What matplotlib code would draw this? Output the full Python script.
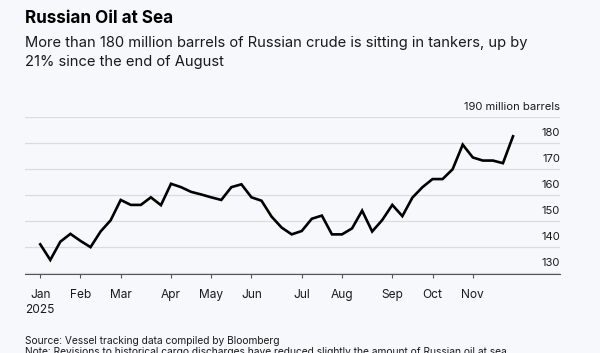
import numpy as np
import pandas as pd
import matplotlib
matplotlib.use("Agg")
import matplotlib.pyplot as plt
import matplotlib.transforms as mtransforms

# weekly barrels of Russian crude on tankers (million)
weeks = pd.date_range("2025-01-05", periods=48, freq="7D")
barrels = [
    141.2, 135.2, 142.2, 145.2, 142.5, 140.1, 146.1, 150.4, 158.2, 156.3,
    156.3, 159.2, 156.2, 164.4, 163.1, 161.3, 160.3, 159.2, 158.2, 163.1,
    164.2, 159.2, 157.9, 151.8, 147.6, 145.0, 146.3, 151.0, 152.2, 145.0,
    145.0, 147.3, 154.1, 146.1, 150.5, 156.3, 152.0, 159.1, 163.1, 166.2,
    166.2, 170.0, 179.4, 174.5, 173.3, 173.3, 172.3, 182.6,
]
y_ticks = [130, 140, 150, 160, 170, 180, 190]
y_labels = ["130", "140", "150", "160", "170", "180", "190 million barrels"]

title = "Russian Oil at Sea"
subtitle = [
    "More than 180 million barrels of Russian crude is sitting in tankers, up by",
    "21% since the end of August",
]
source = "Source: Vessel tracking data compiled by Bloomberg"
note = ("Note: Revisions to historical cargo discharges have reduced slightly "
        "the amount of Russian oil at sea")

plt.rcParams["font.family"] = ["Inter", "DejaVu Sans"]
bg = "#f6f8fb"
ink = "#1a1a1a"

fig = plt.figure(figsize=(6.0, 3.53), dpi=100, facecolor=bg)
ax = fig.add_axes([25 / 600, 1 - 273.5 / 353, 535 / 600, (273.5 - 117) / 353])
ax.set_facecolor(bg)

ax.plot(weeks, barrels, color="#000000", lw=1.9, solid_joinstyle="miter")

ax.set_ylim(130, 190)
ax.set_xlim(weeks[0] - pd.Timedelta(days=10.6), weeks[-1] + pd.Timedelta(days=32.7))

# gridlines, labels sit above the lines at the right edge
ax.set_yticks(y_ticks)
ax.tick_params(axis="y", length=0, labelleft=False)
ax.grid(axis="y", color="#d9dde3", lw=0.9)
ax.set_axisbelow(True)
trans = mtransforms.blended_transform_factory(ax.transAxes, ax.transData)
trans = mtransforms.offset_copy(trans, fig=fig, x=0, y=5.2, units="points")
for v, lab in zip(y_ticks, y_labels):
    ax.text(1.0, v, lab, transform=trans, ha="right", va="baseline",
            fontsize=8.1, color=ink)

# month ticks at the first weekly point of each month
s = pd.Series(weeks, index=weeks)
firsts = s.groupby(s.index.month).min()
tick_dates = list(firsts.values[:11])
tick_labels = [d.strftime("%b") for d in firsts.iloc[:11]]
tick_labels[0] = "Jan\n2025"
ax.set_xticks(tick_dates)
ax.set_xticklabels(tick_labels, fontsize=8.6, color=ink, linespacing=1.35, va="top")
ax.tick_params(axis="x", direction="out", length=3, width=0.8, color="#555555", pad=8)

for side in ("top", "left", "right"):
    ax.spines[side].set_visible(False)
ax.spines["bottom"].set_color("#555555")
ax.spines["bottom"].set_linewidth(0.8)

fig.text(25 / 600, 1 - 22.7 / 353, title, fontsize=12.3, fontweight="bold",
         color="#000000", va="baseline")
fig.text(25 / 600, 1 - 46.7 / 353, subtitle[0], fontsize=10.6, color=ink, va="baseline")
fig.text(25 / 600, 1 - 66.0 / 353, subtitle[1], fontsize=10.6, color=ink, va="baseline")
fig.text(25 / 600, 1 - 343.5 / 353, source, fontsize=7.35, color=ink, va="baseline")
fig.text(25 / 600, 1 - 355.0 / 353, note, fontsize=7.35, color=ink, va="baseline")

fig.savefig("out.png", dpi=100, facecolor=bg)
